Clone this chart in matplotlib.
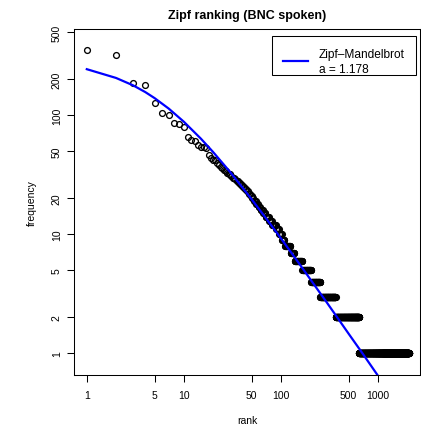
import numpy as np
import matplotlib.pyplot as plt
from matplotlib.patches import Rectangle
from matplotlib.lines import Line2D

plt.rcParams['font.family'] = ['Liberation Sans', 'DejaVu Sans']

# observed frequencies, ranks 1-23
top_freqs = [356, 319, 188, 180, 128, 105, 101, 86, 85, 79, 66, 62, 61, 56,
             54, 54, 53, 46, 44, 42, 42, 40, 38]
# ranks 24-65
mid_freqs = [37, 36, 35, 34, 33, 32, 32, 31, 30, 30, 29, 28, 28, 27, 27, 26,
             26, 25, 25, 24, 24, 23, 23, 22, 22, 21, 21, 20, 20, 19, 19, 19,
             18, 18, 18, 17, 17, 17, 16, 16, 16, 16]
# frequency spectrum of the tail: frequency class and number of types in it
spec_freq = [15, 14, 13, 12, 11, 10, 9, 8, 7, 6, 5, 4, 3, 2, 1]
spec_count = [4, 6, 6, 8, 6, 7, 7, 16, 13, 28, 39, 49, 113, 272, 1444]

# Zipf-Mandelbrot expected frequencies
zm_rank = [1, 2, 3, 4, 5, 7, 10, 15, 20, 30, 50, 70, 100, 150, 200, 300,
           500, 700, 1000, 1500]
zm_freq = [244, 206, 178.5, 156.8, 139.4, 113.7, 88.3, 63.6, 49.2, 33.4,
           19.7, 13.7, 9.27, 5.87, 4.22, 2.65, 1.46, 0.99, 0.65, 0.405]

freqs = np.concatenate([top_freqs, mid_freqs,
                        np.repeat(spec_freq, spec_count)])
ranks = np.arange(1, len(freqs) + 1)

W, H = 421, 427
fig = plt.figure(figsize=(W / 100, H / 100), dpi=100)
L, R, T, B = 74, 420, 30, 376
ax = fig.add_axes([L / W, 1 - B / H, (R - L) / W, (B - T) / H])

ax.plot(ranks, freqs, 'o', mfc='none', mec='black', ms=4.2, mew=0.95)
ax.plot(zm_rank, zm_freq, color='#0000ff', lw=1.6)

ax.set_xscale('log')
ax.set_yscale('log')
ax.set_xlim(0.738, 2720)
ax.set_ylim(0.657, 531)

xt = [1, 5, 10, 50, 100, 500, 1000]
yt = [1, 2, 5, 10, 20, 50, 100, 200, 500]
ax.set_xticks(xt)
ax.set_xticklabels([str(v) for v in xt])
ax.set_yticks(yt)
ax.set_yticklabels([str(v) for v in yt], rotation=90, va='center')
ax.minorticks_off()
ax.tick_params(axis='both', direction='out', length=5.2, width=0.75,
               labelsize=7.5, color='black')
ax.tick_params(axis='x', pad=5.5)
ax.tick_params(axis='y', pad=3.6)
for s in ax.spines.values():
    s.set_linewidth(0.75)

ax.set_xlabel('rank', fontsize=7.5)
ax.set_ylabel('frequency', fontsize=7.5)
ax.xaxis.set_label_coords(0.5, (B - 416) / (B - T))
ax.yaxis.set_label_coords((31.7 - L) / (R - L), 0.5)
ax.yaxis.label.set_va('center')

fig.text(247 / W, 1 - 19 / H, 'Zipf ranking (BNC spoken)', ha='center',
         va='baseline', fontsize=9.0, fontweight='bold')

# legend box
fig.add_artist(Rectangle((272 / W, 1 - 76 / H), 144 / W, 39 / H,
                         transform=fig.transFigure, fill=True, fc='white',
                         ec='black', lw=0.75))
fig.add_artist(Line2D([283.3 / W, 308.3 / W], [1 - 61.7 / H, 1 - 61.7 / H],
                      transform=fig.transFigure, color='#0000ff', lw=1.6))
fig.text(319 / W, 1 - 58.3 / H, 'Zipf\u2013Mandelbrot', va='baseline',
         fontsize=8.6)
fig.text(319 / W, 1 - 73.3 / H, 'a = 1.178', va='baseline', fontsize=8.6)

fig.savefig('out.png', dpi=100)
